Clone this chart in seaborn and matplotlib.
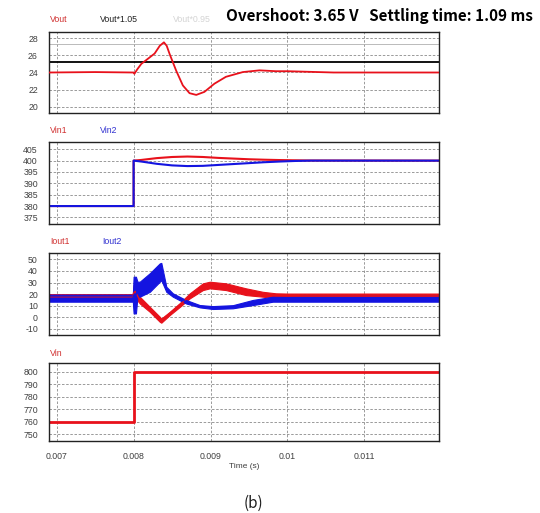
import numpy as np
import pandas as pd
import matplotlib
matplotlib.use("Agg")
import matplotlib.pyplot as plt
import seaborn as sns

# ---------------- data ----------------
x_ticks = [0.007, 0.008, 0.009, 0.010, 0.011]
x_tick_labels = ["0.007", "0.008", "0.009", "0.01", "0.011"]

vout_t = [0.0069, 0.0075, 0.0080, 0.00801, 0.00805, 0.0081, 0.008165, 0.008273, 0.00834,
          0.008394, 0.00843, 0.00847, 0.008554, 0.00864, 0.008727, 0.008814, 0.00892, 0.00905,
          0.0092, 0.00942, 0.009636, 0.00985, 0.0100, 0.0102, 0.0104, 0.0106, 0.0120]
vout_v = [24.0, 24.05, 24.0, 23.85, 24.4, 25.0, 25.45, 26.2, 27.1,
          27.5, 27.1, 26.1, 24.2, 22.5, 21.6, 21.4, 21.75, 22.7,
          23.5, 24.05, 24.25, 24.15, 24.15, 24.1, 24.05, 24.0, 24.0]
vout_upper_ref = 25.2     # Vout*1.05
vout_grey_ref = 27.35

vin_t = [0.0069, 0.008, 0.008, 0.0081, 0.0082, 0.0083, 0.0085, 0.0087, 0.0089, 0.0091,
         0.0093, 0.0095, 0.0097, 0.0099, 0.0101, 0.0103, 0.0120]
vin1_v = [380, 380, 400, 400.3, 400.7, 401.1, 401.6, 401.8, 401.6, 401.2,
          400.9, 400.6, 400.4, 400.25, 400.15, 400.05, 400]
vin2_v = [380, 380, 400, 399.6, 399.1, 398.6, 397.9, 397.6, 397.7, 398.1,
          398.5, 398.9, 399.3, 399.6, 399.85, 400.0, 400]

iout2_t = [0.0069, 0.00799, 0.00800, 0.00803, 0.00805, 0.00808, 0.00821, 0.00834, 0.00836,
           0.008425, 0.00851, 0.00868, 0.00886, 0.00903, 0.00929, 0.00955, 0.00981,
           0.0100, 0.0102, 0.0120]
iout2_lo = [13.5, 13.5, 3.4, 3.4, 17.8, 17.8, 22, 30.7, 32,
            22, 17.8, 12, 8.6, 7.2, 7.8, 10.6, 13.5,
            13.5, 13.5, 13.5]
iout2_hi = [19.5, 19.5, 35, 35, 30.7, 30.7, 38, 46.5, 46.9,
            26.4, 20.7, 15, 10.6, 9.7, 10.5, 15, 17.8,
            18, 18.5, 18.5]

iout1_t = [0.0069, 0.00799, 0.00800, 0.00802, 0.00808, 0.00821, 0.00834, 0.00836, 0.00847,
           0.0086, 0.00873, 0.0089, 0.00899, 0.0092, 0.00946, 0.00968, 0.00985, 0.0100,
           0.0102, 0.0105, 0.0120]
iout1_lo = [14.5, 14.5, 14, 17, 12, 4.8, -3.8, -4.6, 2,
            9, 16.4, 23.5, 25, 23.5, 19.2, 17.8, 16.4, 16,
            16, 16, 16]
iout1_hi = [20, 20, 27.8, 27.8, 17.8, 9.1, 0.5, -1, 4.8,
            12.3, 20.7, 29.3, 30.7, 29.3, 25, 22, 20.7, 20.5,
            20.5, 20.5, 20.5]

vinsrc_t = [0.0069, 0.008, 0.008, 0.0120]
vinsrc_v = [760, 760, 800, 800]

y_ticks = [[20, 22, 24, 26, 28],
           [375, 380, 385, 390, 395, 400, 405],
           [-10, 0, 10, 20, 30, 40, 50],
           [750, 760, 770, 780, 790, 800]]
y_lims = [(19.3, 28.7), (372.1, 408.2), (-15.2, 55.7), (744.7, 806.7)]

RED = "#e8111b"
BLUE = "#1414e0"

# ---------------- figure ----------------
sns.set_theme(style="white")
plt.rcParams["font.family"] = ["Liberation Sans", "DejaVu Sans"]

fig = plt.figure(figsize=(5.4, 5.13), dpi=100)
W, H = 540, 513
boxes = [(32, 113), (142, 224), (252.7, 335), (363.3, 441)]
axes = []
for top, bot in boxes:
    ax = fig.add_axes([49 / W, 1 - bot / H, 390 / W, (bot - top) / H])
    axes.append(ax)

for i, ax in enumerate(axes):
    ax.set_xlim(0.0069, 0.01197)
    ax.set_ylim(*y_lims[i])
    ax.set_xticks(x_ticks)
    ax.set_yticks(y_ticks[i])
    ax.set_yticklabels([str(v) for v in y_ticks[i]])
    if i == 3:
        ax.set_xticklabels(x_tick_labels)
    else:
        ax.set_xticklabels([])
    ax.tick_params(length=0, labelsize=6.3, colors="#404040", pad=8)
    ax.grid(True, linestyle=(0, (3, 2)), color="#8a8a8a", linewidth=0.6)
    ax.set_axisbelow(True)
    for s in ax.spines.values():
        s.set_color("#222222")
        s.set_linewidth(1.0)

# panel 1: Vout
ax = axes[0]
ax.axhline(vout_grey_ref, color="#b0b0b0", lw=0.6, zorder=1)
ax.axhline(vout_upper_ref, color="black", lw=1.3, zorder=2)
sns.lineplot(x=vout_t, y=vout_v, ax=ax, color=RED, lw=1.3, estimator=None, sort=False, zorder=3)

# panel 2: Vin1 / Vin2
ax = axes[1]
sns.lineplot(x=vin_t, y=vin1_v, ax=ax, color=RED, lw=1.5, estimator=None, sort=False)
sns.lineplot(x=vin_t, y=vin2_v, ax=ax, color=BLUE, lw=1.5, estimator=None, sort=False)

# panel 3: Iout1 / Iout2 (ripple bands from envelope)
ax = axes[2]
def band(t, lo, hi, color):
    df = pd.DataFrame({"t": list(t) + list(t), "i": list(lo) + list(hi)})
    sns.lineplot(data=df, x="t", y="i", ax=ax, color=color, lw=1.0,
                 estimator="mean", errorbar=("pi", 100),
                 err_kws=dict(alpha=1.0, linewidth=0.8, edgecolor=color))
band(iout1_t, iout1_lo, iout1_hi, RED)
band(iout2_t, iout2_lo, iout2_hi, BLUE)

# panel 4: Vin source
ax = axes[3]
sns.lineplot(x=vinsrc_t, y=vinsrc_v, ax=ax, color=RED, lw=2.0, estimator=None, sort=False)

for ax in axes:
    ax.set_xlabel("")
    ax.set_ylabel("")
    ax.set_xlim(0.0069, 0.01197)

# ---------------- texts ----------------
def ft(x, y, s, **kw):
    fig.text(x / W, 1 - y / H, s, va="center", **kw)

ft(50, 20, "Vout", color="#d03030", fontsize=6.3)
ft(100, 20, "Vout*1.05", color="#202020", fontsize=6.3)
ft(173, 20, "Vout*0.95", color="#d4d4d4", fontsize=6.3)
ft(226, 16, "Overshoot: 3.65 V   Settling time: 1.09 ms", color="black",
   fontsize=11, fontweight="bold", family=["Noto Sans CJK KR", "DejaVu Sans"])
ft(50, 131, "Vin1", color="#d03030", fontsize=6.3)
ft(100, 131, "Vin2", color="#3030d0", fontsize=6.3)
ft(50, 242, "Iout1", color="#d03030", fontsize=6.3)
ft(102, 242, "Iout2", color="#3030d0", fontsize=6.3)
ft(50, 353, "Vin", color="#d03030", fontsize=6.3)
ft(244, 466, "Time (s)", color="#404040", fontsize=6.0, ha="center")
ft(253, 503, "(b)", color="#202020", fontsize=11, ha="center",
   family=["Noto Sans CJK KR", "DejaVu Sans"])

fig.savefig("out.png", dpi=100)
